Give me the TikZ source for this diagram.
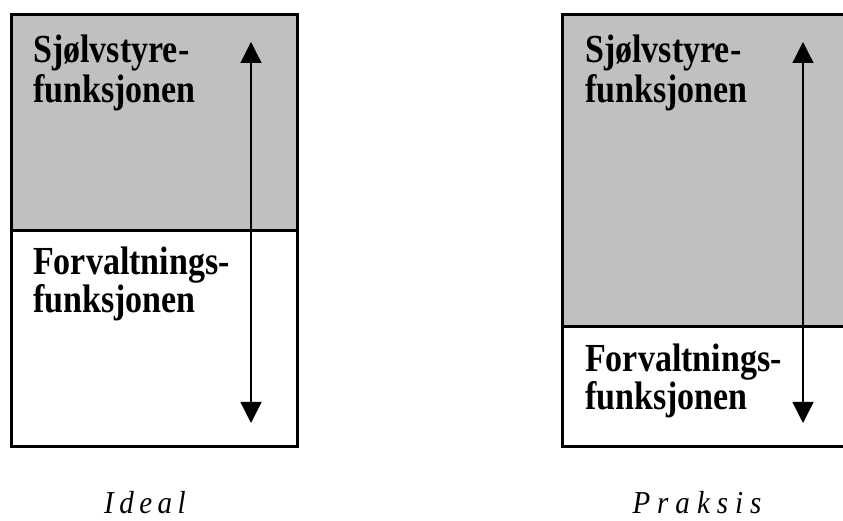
\documentclass[tikz,border=0pt]{standalone}
\usepackage{fontspec}
\setmainfont{Liberation Serif}
\usepackage{xcolor}
\usetikzlibrary{arrows.meta}
\definecolor{boxgray}{HTML}{C0C0C0}
\tikzset{
  boxframe/.style={draw=black, line width=3pt, line join=miter},
  divider/.style={draw=black, line width=3pt},
  updown/.style={draw=black, line width=1.3pt,
    {Triangle[length=21pt,width=21pt]}-{Triangle[length=21pt,width=21pt]}},
  lab/.style={anchor=base west, inner sep=0pt, align=left, yscale=1.17,
    font=\bfseries\fontsize{34}{35}\selectfont},
  labtight/.style={lab, font=\bfseries\fontsize{34}{32.5}\selectfont},
  caption/.style={anchor=base, inner sep=0pt, text depth=0pt, yscale=1.1,
    font=\itshape\fontsize{29}{34}\selectfont},
}

\begin{document}
\begin{tikzpicture}[x=1pt,y=1pt]
  \useasboundingbox (0,0) rectangle (843,521);
  \clip (0,0) rectangle (843,521);

  % left column: ideal
  \fill[boxgray] (11,290) rectangle (297,506);
  \draw[divider] (11,290) -- (297,290);
  \draw[boxframe] (11,74) rectangle (297,506);
  \node[lab] (lsjolv) at (33,418) {Sjølvstyre-\\funksjonen};
  \node[labtight] (lforv) at (33,208) {Forvaltnings-\\funksjonen};
  \coordinate (lup) at (251,479);
  \coordinate (ldown) at (251,98);
  \draw[updown] (ldown) -- (lup);
  \node[caption] (ideal) at (145,7) {I\kern5.5pt d\kern5.5pt e\kern5.5pt a\kern5.5pt l};

  % right column: praksis (box runs past the edge)
  \fill[boxgray] (562,194) rectangle (860,506);
  \draw[divider] (562,194) -- (860,194);
  \draw[boxframe] (562,74) rectangle (860,506);
  \node[lab] (rsjolv) at (585,418) {Sjølvstyre-\\funksjonen};
  \node[labtight] (rforv) at (585,111) {Forvaltnings-\\funksjonen};
  \coordinate (rup) at (803,479);
  \coordinate (rdown) at (803,98);
  \draw[updown] (rdown) -- (rup);
  \node[caption] (praksis) at (697,7) {P\kern7pt r\kern7pt a\kern7pt k\kern7pt s\kern7pt i\kern7pt s};
\end{tikzpicture}
\end{document}
